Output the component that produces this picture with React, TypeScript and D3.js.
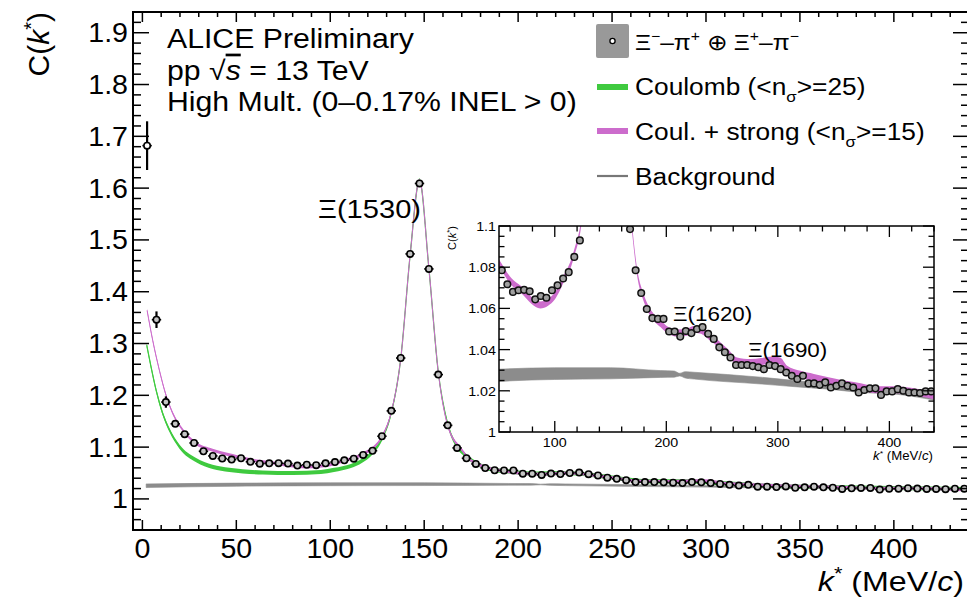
import React from "react";
import * as d3 from "d3";

// ---------- data ----------
const kBins: number[] = d3.range(2.5, 440, 5); // bin centres, MeV/c
const cValues: number[] = [
  1.682, 1.346, 1.187, 1.145, 1.125, 1.108, 1.092, 1.083, 1.078, 1.076,
  1.0785, 1.0717, 1.068, 1.0688, 1.069, 1.0683, 1.0644, 1.066, 1.0652, 1.0688,
  1.0712, 1.0745, 1.0776, 1.085, 1.093, 1.121, 1.17, 1.272, 1.473, 1.609,
  1.444, 1.24, 1.142, 1.0985, 1.0785, 1.0675, 1.0597, 1.0553, 1.0549, 1.0549,
  1.0488, 1.0488, 1.0463, 1.049, 1.048, 1.05, 1.0509, 1.0477, 1.0452, 1.0411,
  1.0387, 1.0362, 1.0325, 1.0325, 1.0325, 1.032, 1.0314, 1.0305, 1.0325, 1.032,
  1.0305, 1.0289, 1.0273, 1.0257, 1.0273, 1.0236, 1.0236, 1.0229, 1.0241, 1.0216,
  1.0224, 1.0236, 1.0224, 1.0216, 1.0192, 1.0204, 1.0212, 1.0212, 1.018, 1.0197,
  1.0197, 1.0208, 1.02, 1.0192, 1.0192, 1.0189, 1.0197, 1.0197,
];
const cErrorsLow: number[] = [0.047, 0.016, 0.011, 0.006, 0.004, 0.003];
const cErrorDefault = 0.002;

const coulombK: number[] = [2.3, 4.6, 7.3, 10.8, 14.4, 19.7, 28.6, 37.4, 46.3, 64, 80, 95, 102, 111, 117, 122, 127.5, 132.5, 137.5, 142.5, 147.5, 152.5, 157.5, 162.5, 167, 172, 178, 185, 195, 210, 225, 240, 255, 270, 290, 310, 330, 360, 400, 440];
const coulombC: number[] = [1.297, 1.255, 1.21, 1.165, 1.133, 1.101, 1.075, 1.062, 1.056, 1.051, 1.05, 1.052, 1.056, 1.0636, 1.074, 1.088, 1.116, 1.166, 1.27, 1.47, 1.615, 1.445, 1.245, 1.145, 1.104, 1.084, 1.068, 1.058, 1.053, 1.049, 1.05, 1.046, 1.039, 1.034, 1.034, 1.03, 1.026, 1.023, 1.021, 1.019];

const strongK: number[] = [2.5, 5.5, 9, 12.6, 16.2, 21.5, 28.6, 37.4, 46.3, 50, 61, 70, 79, 87, 94, 100, 109, 114, 118, 123, 127.5, 132.5, 137.5, 142.5, 147.5, 152.5, 157.5, 162.5, 170, 174, 179, 183, 189, 195, 201, 210, 219, 224.5, 230, 239.5, 254.4, 263.4, 275.4, 285, 295, 302, 308.3, 320.3, 332.3, 344.3, 359.3, 374.3, 389.3, 404.3, 419.3, 440];
const strongC: number[] = [1.364, 1.306, 1.249, 1.2, 1.165, 1.133, 1.107, 1.094, 1.085, 1.082, 1.073, 1.069, 1.064, 1.0617, 1.063, 1.066, 1.0755, 1.081, 1.088, 1.099, 1.12, 1.168, 1.27, 1.47, 1.615, 1.445, 1.245, 1.142, 1.095, 1.077, 1.0663, 1.0607, 1.0555, 1.0525, 1.0495, 1.048, 1.0485, 1.0497, 1.0495, 1.046, 1.039, 1.0345, 1.0337, 1.0342, 1.0349, 1.0345, 1.0305, 1.028, 1.0265, 1.025, 1.0233, 1.022, 1.0205, 1.0205, 1.0198, 1.0175];

const bgK: number[] = [2, 50, 100, 150, 195, 207, 212, 217, 225, 285, 315, 345, 375, 405, 440];
const bgLow: number[] = [1.022, 1.0245, 1.0255, 1.0258, 1.0265, 1.0266, 1.0272, 1.0262, 1.0257, 1.0233, 1.022, 1.0208, 1.0192, 1.0184, 1.0155];
const bgHigh: number[] = [1.029, 1.0305, 1.0312, 1.0312, 1.0298, 1.0296, 1.0285, 1.0293, 1.029, 1.0266, 1.025, 1.0236, 1.0224, 1.0208, 1.0197];

const mainXTicks: number[] = [0, 50, 100, 150, 200, 250, 300, 350, 400];
const mainYTicks: number[] = [1, 1.1, 1.2, 1.3, 1.4, 1.5, 1.6, 1.7, 1.8, 1.9];
const insetXTicks: number[] = [100, 200, 300, 400];
const insetYTicks: number[] = [1, 1.02, 1.04, 1.06, 1.08, 1.1];

// ---------- styling ----------
const FONT = "'Liberation Sans', Arial, Helvetica, sans-serif";
const SX = 1.12;
const GREEN = "#3fca3f";
const MAGENTA = "#cc6ccc";
const GREY = "#8c8c8c";

type P = { k: number; v: number };
const zip = (ks: number[], vs: number[]): P[] =>
  ks.slice(0, Math.min(ks.length, vs.length)).map((k, i) => ({ k, v: vs[i] }));

const points = kBins.slice(0, cValues.length).map((k, i) => ({
  k,
  v: cValues[i],
  e: i < cErrorsLow.length ? cErrorsLow[i] : cErrorDefault,
}));
const coulomb = zip(coulombK, coulombC);
const strong = zip(strongK, strongC);
const bg = bgK.map((k, i) => ({ k, lo: bgLow[i], hi: bgHigh[i] }));

function T({ x, y, size, anchor = "start", sx = SX, children, italic = false }: any) {
  return (
    <text
      transform={`translate(${x},${y}) scale(${sx},1)`}
      fontSize={size}
      textAnchor={anchor}
      fontFamily={FONT}
      fontStyle={italic ? "italic" : "normal"}
      fill="#000"
    >
      {children}
    </text>
  );
}

export default function App() {
  // main frame
  const L = 133, R = 969, TOP = 12, B = 530;
  const x = d3.scaleLinear().domain([-5, 440]).range([L, R]);
  const y = d3.scaleLinear().domain([0.94, 1.94]).range([B, TOP]);

  // inset frame
  const iL = 499, iR = 934, iT = 226, iB = 432;
  const xi = d3.scaleLinear().domain([50, 440]).range([iL, iR]);
  const yi = d3.scaleLinear().domain([1.0, 1.1]).range([iB, iT]);

  const band = (xs: any, ys: any, hw: number) =>
    d3.area<P>()
      .x((d) => xs(d.k))
      .y0((d) => ys(d.v - hw))
      .y1((d) => ys(d.v + hw))
      .curve(d3.curveMonotoneX);
  const line = (xs: any, ys: any) =>
    d3.line<P>().x((d) => xs(d.k)).y((d) => ys(d.v)).curve(d3.curveMonotoneX);
  const bgArea = (xs: any, ys: any) =>
    d3.area<any>()
      .x((d) => xs(d.k))
      .y0((d) => ys(d.lo))
      .y1((d) => ys(d.hi))
      .curve(d3.curveMonotoneX);

  // ticks
  const mainYMinor = d3.range(48, 97).map((i) => i / 50);
  const mainXMinor = d3.range(0, 441, 10);
  const insetYMinor = d3.range(200, 221).map((i) => i / 200);
  const insetXMinor = d3.range(60, 441, 20);

  return (
    <svg
      width={967}
      height={597}
      style={{ position: "absolute", left: 0, top: 0, background: "#fff" }}
    >
      <defs>
        <clipPath id="mainClip">
          <rect x={L} y={TOP} width={R - L} height={B - TOP} />
        </clipPath>
        <clipPath id="insetClip">
          <rect x={iL} y={iT} width={iR - iL} height={iB - iT} />
        </clipPath>
      </defs>
      <rect x={0} y={0} width={967} height={597} fill="#fff" />

      {/* ---------- main plot content ---------- */}
      <g clipPath="url(#mainClip)">
        <path d={bgArea(x, y)(bg) || ""} fill={GREY} stroke={GREY} strokeWidth={0.6} />
        <path d={band(x, y, 0.004)(coulomb) || ""} fill={GREEN} />
        <path d={line(x, y)(coulomb) || ""} fill="none" stroke={GREEN} strokeWidth={1.2} />
        <path d={band(x, y, 0.003)(strong) || ""} fill={MAGENTA} />
        <path d={line(x, y)(strong) || ""} fill="none" stroke={MAGENTA} strokeWidth={1} />
        {points.map((p, i) => (
          <g key={i}>
            <line x1={x(p.k - 2.5)} x2={x(p.k + 2.5)} y1={y(p.v)} y2={y(p.v)} stroke="#000" strokeWidth={1.6} />
            <line x1={x(p.k)} x2={x(p.k)} y1={y(p.v - p.e)} y2={y(p.v + p.e)} stroke="#000" strokeWidth={2.2} />
            <circle cx={x(p.k)} cy={y(p.v)} r={3.2} fill={i === 0 ? "#fff" : "#c4c4c4"} stroke="#000" strokeWidth={1.6} />
          </g>
        ))}
      </g>

      {/* ---------- main frame and ticks ---------- */}
      <rect x={L} y={TOP} width={R - L} height={B - TOP} fill="none" stroke="#000" strokeWidth={2} />
      {mainYMinor.map((v, i) => {
        const major = Math.round(v * 50) % 5 === 0;
        const len = major ? 16 : 8;
        return (
          <g key={"yt" + i}>
            <line x1={L} x2={L + len} y1={y(v)} y2={y(v)} stroke="#000" strokeWidth={1.5} />
            <line x1={R} x2={R - len} y1={y(v)} y2={y(v)} stroke="#000" strokeWidth={1.5} />
          </g>
        );
      })}
      {mainXMinor.map((v, i) => {
        const major = v % 50 === 0;
        const len = major ? 10 : 5;
        return (
          <g key={"xt" + i}>
            <line x1={x(v)} x2={x(v)} y1={B} y2={B - len} stroke="#000" strokeWidth={1.5} />
            <line x1={x(v)} x2={x(v)} y1={TOP} y2={TOP + len} stroke="#000" strokeWidth={1.5} />
          </g>
        );
      })}
      {mainXTicks.map((v) => (
        <T key={"xl" + v} x={x(v)} y={558} size={27} anchor="middle" sx={1.06}>
          {String(v)}
        </T>
      ))}
      {mainYTicks.map((v) => (
        <T key={"yl" + v} x={128} y={y(v) + 9.5} size={27} anchor="end" sx={1.06}>
          {v === 1 ? "1" : v.toFixed(1)}
        </T>
      ))}

      {/* axis titles */}
      <text transform={`translate(49,12) rotate(-90)`} fontSize={30} textAnchor="end" fontFamily={FONT}>
        C(<tspan fontStyle="italic">k</tspan>
        <tspan fontSize={20} dy={-11}>*</tspan>
        <tspan dy={11}>)</tspan>
      </text>
      <T x={964} y={591} size={28} anchor="end" sx={1.15}>
        <tspan fontStyle="italic">k</tspan>
        <tspan fontSize={19} dy={-11}>*</tspan>
        <tspan dy={11}> (MeV/</tspan>
        <tspan fontStyle="italic">c</tspan>)
      </T>

      {/* header texts */}
      <T x={167} y={48} size={27}>ALICE Preliminary</T>
      <T x={167} y={80} size={27}>
        pp  √<tspan fontStyle="italic" textDecoration="overline">s</tspan> = 13 TeV
      </T>
      <T x={167} y={111} size={27}>High Mult. (0–0.17% INEL &gt; 0)</T>

      {/* resonance labels */}
      <T x={318} y={218} size={26}>Ξ(1530)</T>

      {/* legend */}
      <rect x={596} y={24} width={33} height={34} rx={2} fill="#999" />
      <circle cx={612.5} cy={41} r={2.6} fill="#fff" stroke="#000" strokeWidth={1.3} />
      <T x={635} y={50} size={22}>
        Ξ<tspan fontSize={14} dy={-9}>−</tspan>
        <tspan dy={9}>–π</tspan>
        <tspan fontSize={14} dy={-9}>+</tspan>
        <tspan dy={9}> ⊕ Ξ</tspan>
        <tspan fontSize={14} dy={-9}>+</tspan>
        <tspan dy={9}>–π</tspan>
        <tspan fontSize={14} dy={-9}>−</tspan>
      </T>
      <line x1={597} x2={628} y1={87} y2={87} stroke={GREEN} strokeWidth={6} />
      <T x={635} y={95} size={23.5}>
        Coulomb (&lt;n<tspan fontSize={15} dy={7}>σ</tspan>
        <tspan dy={-7}>&gt;=25)</tspan>
      </T>
      <line x1={597} x2={628} y1={131} y2={131} stroke={MAGENTA} strokeWidth={6} />
      <T x={635} y={140} size={23.5}>
        Coul. + strong (&lt;n<tspan fontSize={15} dy={7}>σ</tspan>
        <tspan dy={-7}>&gt;=15)</tspan>
      </T>
      <line x1={597} x2={628} y1={176} y2={176} stroke="#777" strokeWidth={2.2} />
      <T x={635} y={185} size={23.5}>Background</T>

      {/* ---------- inset ---------- */}
      <rect x={iL} y={iT} width={iR - iL} height={iB - iT} fill="#fff" />
      <g clipPath="url(#insetClip)">
        <path d={bgArea(xi, yi)(bg) || ""} fill={GREY} stroke={GREY} strokeWidth={0.6} />
        <path d={band(xi, yi, 0.0017)(strong) || ""} fill={MAGENTA} />
        {points
          .filter((p) => p.k >= 50)
          .map((p, i) => (
            <circle key={i} cx={xi(p.k)} cy={yi(p.v)} r={3.3} fill="#a0a0a0" stroke="#111" strokeWidth={1.5} />
          ))}
      </g>
      <rect x={iL} y={iT} width={iR - iL} height={iB - iT} fill="none" stroke="#000" strokeWidth={1.5} />
      {insetYMinor.map((v, i) => {
        const major = Math.round(v * 200) % 4 === 0;
        const len = major ? 11 : 5.5;
        return (
          <g key={"iyt" + i}>
            <line x1={iL} x2={iL + len} y1={yi(v)} y2={yi(v)} stroke="#000" strokeWidth={1.3} />
            <line x1={iR} x2={iR - len} y1={yi(v)} y2={yi(v)} stroke="#000" strokeWidth={1.3} />
          </g>
        );
      })}
      {insetXMinor.map((v, i) => {
        const major = v % 100 === 0;
        const len = major ? 11 : 5.5;
        return (
          <g key={"ixt" + i}>
            <line x1={xi(v)} x2={xi(v)} y1={iB} y2={iB - len} stroke="#000" strokeWidth={1.3} />
            <line x1={xi(v)} x2={xi(v)} y1={iT} y2={iT + len} stroke="#000" strokeWidth={1.3} />
          </g>
        );
      })}
      {insetXTicks.map((v) => (
        <T key={"ixl" + v} x={xi(v)} y={447} size={13} anchor="middle" sx={1.1}>
          {String(v)}
        </T>
      ))}
      {insetYTicks.map((v) => (
        <T key={"iyl" + v} x={496} y={yi(v) + 5} size={13} anchor="end" sx={1.1}>
          {v === 1 ? "1" : v === 1.1 ? "1.1" : v.toFixed(2)}
        </T>
      ))}
      <text transform={`translate(456,226) rotate(-90)`} fontSize={11} textAnchor="end" fontFamily={FONT}>
        C(<tspan fontStyle="italic">k</tspan>
        <tspan fontSize={8} dy={-4}>*</tspan>
        <tspan dy={4}>)</tspan>
      </text>
      <T x={933} y={460} size={12} anchor="end" sx={1.1}>
        <tspan fontStyle="italic">k</tspan>
        <tspan fontSize={8} dy={-4}>*</tspan>
        <tspan dy={4}> (MeV/</tspan>
        <tspan fontStyle="italic">c</tspan>)
      </T>
      <T x={673} y={321} size={20}>Ξ(1620)</T>
      <T x={748} y={357} size={20}>Ξ(1690)</T>
    </svg>
  );
}
